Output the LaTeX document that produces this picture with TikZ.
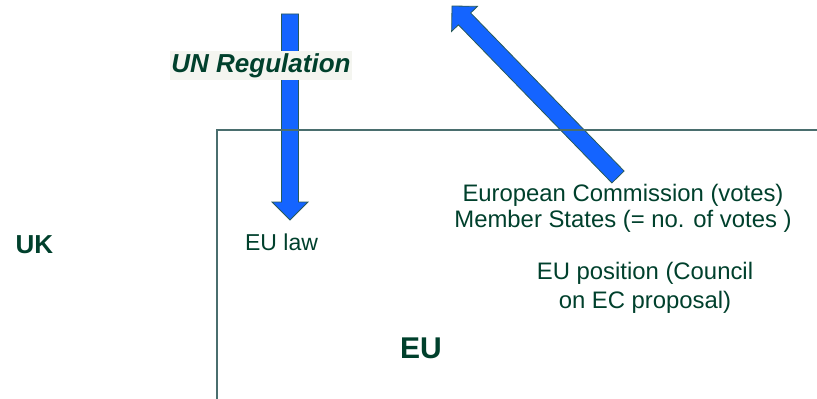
\documentclass[tikz,border=0pt]{standalone}
\usepackage{fontspec}
\setmainfont{Liberation Sans}
\usetikzlibrary{calc}

\definecolor{eutext}{RGB}{0,64,44}
\definecolor{arrowblue}{RGB}{20,100,255}
\definecolor{arrowedge}{RGB}{40,90,90}
\definecolor{framecol}{RGB}{74,110,110}
\definecolor{unbg}{RGB}{244,245,240}

\newcommand{\bigarrow}[2]{%
\draw[blockarrow] ($(#1)!6.4pt!90:(#2)$)
  -- ($(#2)!13.5pt!(#1)!6.4pt!-90:(#1)$)
  -- ($(#2)!13.5pt!(#1)!13.5pt!-90:(#1)$)
  -- (#2)
  -- ($(#2)!13.5pt!(#1)!13.5pt!90:(#1)$)
  -- ($(#2)!13.5pt!(#1)!6.4pt!90:(#1)$)
  -- ($(#1)!6.4pt!-90:(#2)$) -- cycle;}

\begin{document}
\begin{tikzpicture}[x=0.75pt,y=-0.75pt,
  blockarrow/.style={fill=arrowblue,draw=arrowedge,line width=0.6pt},
  frame/.style={draw=framecol,line width=1pt},
  txt/.style={text=eutext,inner sep=0pt,font=\fontsize{17.25}{19.3}\selectfont},
  bold/.style={text=eutext,inner sep=0pt,font=\bfseries\fontsize{#1}{#1}\selectfont}]
\useasboundingbox (0,0) rectangle (817,399);

\coordinate (Vtail) at (290,14);
\coordinate (Vtip) at (290,220);
\coordinate (Dtail) at (618,177);
\coordinate (Dtip) at (452,6);

\bigarrow{Vtail}{Vtip}
\bigarrow{Dtail}{Dtip}

\node[fill=unbg,text=eutext,inner xsep=1.1pt,inner ysep=0pt,minimum height=21.75pt,
  font=\bfseries\itshape\fontsize{19.5}{19.5}\selectfont] (UN) at (261,65.5) {UN Regulation};

\draw[frame] (217,399) -- (217,130) -- (817,130);

\node[bold=19.5,anchor=base] (UK) at (34.5,253) {UK};
\node[txt,anchor=base] (EUlaw) at (281.5,250) {EU law};
\node[bold=22.5,anchor=base] (EU) at (421,358) {EU};
\node[txt,align=center,font=\fontsize{17.9}{19.3}\selectfont] (EC) at (623,208) {European Commission (votes)\\Member States (= no. of votes )};
\node[txt,align=center,font=\fontsize{17.9}{21.75}\selectfont] (Pos) at (645,287.5) {EU position (Council\\on EC proposal)};

\end{tikzpicture}
\end{document}
